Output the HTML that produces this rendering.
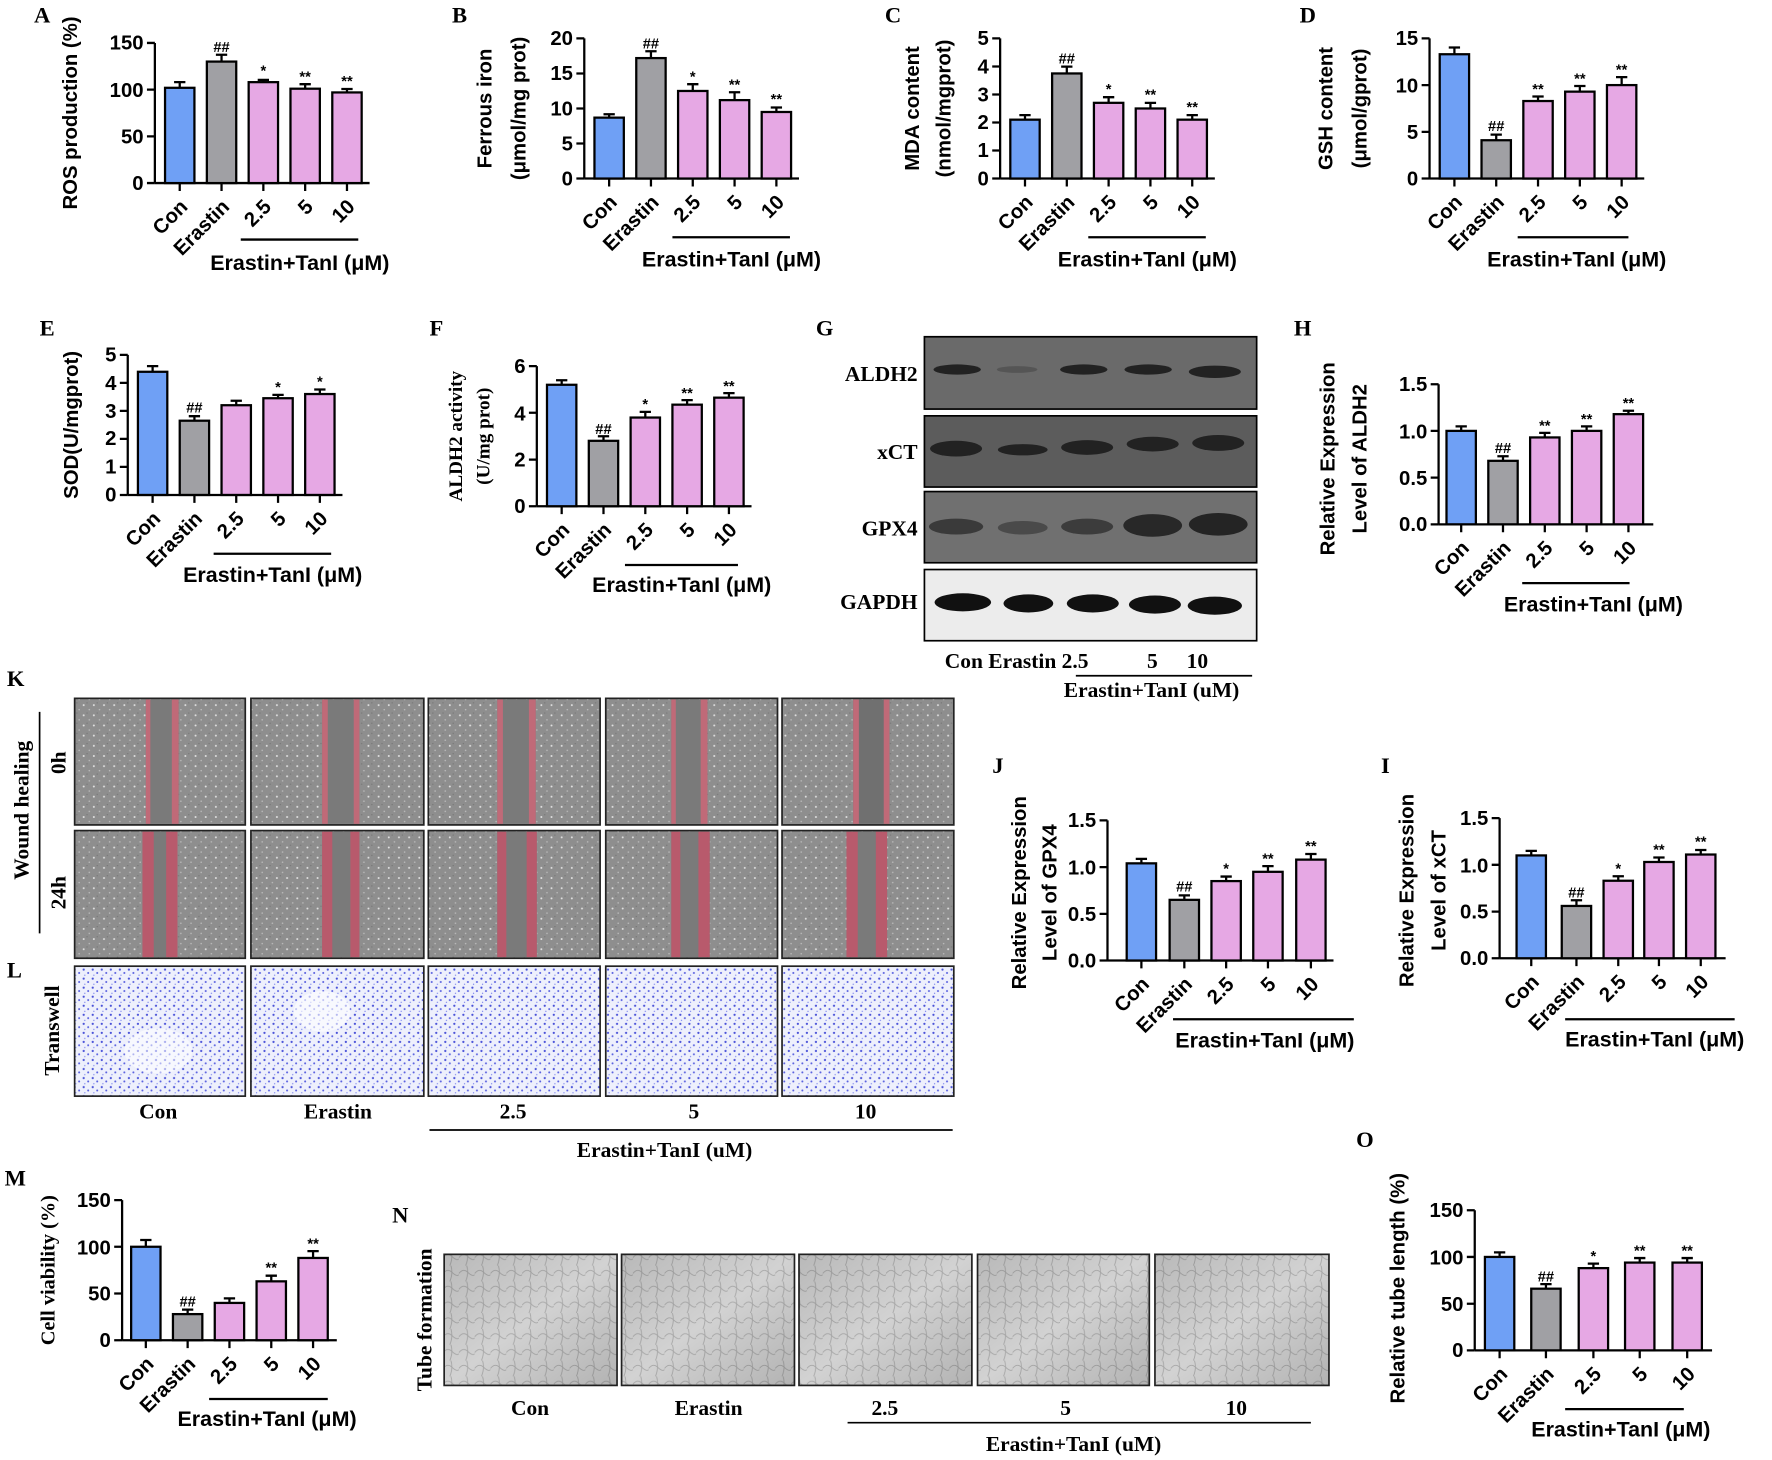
<!DOCTYPE html>
<html><head><meta charset="utf-8"><style>
html,body{margin:0;padding:0;background:#fff}
svg{display:block}
.s{font-family:"Liberation Sans",Arial,sans-serif;font-weight:bold}
.r{font-family:"Liberation Serif","Times New Roman",serif;font-weight:bold}
.ax line,.ax path{stroke:#000;stroke-width:2;fill:none}
.b{stroke:#000;stroke-width:2}
.c{fill:#6fa0f5}.g{fill:#a0a0a4}.p{fill:#e6a8e4}
.tk{font-size:18px;text-anchor:end}
.ct{font-size:18px;text-anchor:end}
.sg{font-size:13px;text-anchor:middle;font-family:"Liberation Sans",sans-serif}
.yl{font-size:18px;text-anchor:middle}
.lt{font-size:20px}
</style></head><body>
<svg width="1772" height="1460" viewBox="0 0 1568 1292" xmlns="http://www.w3.org/2000/svg">
<defs>
<pattern id="wd" width="9" height="9" patternUnits="userSpaceOnUse"><rect width="9" height="9" fill="#8e8e8e"/><circle cx="2" cy="3" r="0.9" fill="#e0e0e0"/><circle cx="7" cy="7" r="0.7" fill="#bbb"/><circle cx="5" cy="1" r="0.6" fill="#777"/></pattern>
<pattern id="tw" width="8" height="8" patternUnits="userSpaceOnUse"><rect width="8" height="8" fill="#eef0fc"/><circle cx="2" cy="2" r="1" fill="#4a52d8"/><circle cx="6" cy="5" r="0.9" fill="#5a62e0"/><circle cx="3" cy="7" r="0.6" fill="#8088ee"/></pattern>
<pattern id="tb" width="14" height="14" patternUnits="userSpaceOnUse"><rect width="14" height="14" fill="#d2d2d2"/><path d="M0 7 Q4 2 8 6 T14 8 M7 0 Q9 7 6 14" stroke="#a8a8a8" stroke-width="0.8" fill="none"/></pattern>
<linearGradient id="vg" x1="0" y1="0" x2="1" y2="1"><stop offset="0" stop-color="#000" stop-opacity="0.12"/><stop offset="0.5" stop-color="#000" stop-opacity="0"/><stop offset="1" stop-color="#000" stop-opacity="0.15"/></linearGradient>
</defs>

<g class="r lt">
<text x="30" y="20">A</text><text x="400" y="20">B</text><text x="783" y="20">C</text><text x="1150" y="20">D</text>
<text x="35" y="297">E</text><text x="380" y="297">F</text><text x="722" y="297">G</text><text x="1145" y="297">H</text>
<text x="6" y="607">K</text><text x="6" y="865">L</text><text x="878" y="684">J</text><text x="1222" y="684">I</text>
<text x="4" y="1049">M</text><text x="347" y="1082">N</text><text x="1200" y="1015">O</text>
</g>

<!-- A -->
<g transform="translate(137,162)" class="s">
<g class="ax"><line x1="0" y1="0" x2="0" y2="-124"/><line x1="0" y1="0" x2="190" y2="0"/>
<path d="M-7 0H0M-7 -41.3H0M-7 -82.7H0M-7 -124H0M22 0v7M59 0v7M96 0v7M133 0v7M170 0v7M76 50H180"/>
<path d="M22 -84.3v-5M17 -89.3h10M59 -107.5v-6M54 -113.5h10M96 -89.3v-2M91 -91.3h10M133 -83.5v-4M128 -87.5h10M170 -80.2v-3M165 -83.2h10"/></g>
<rect class="b c" x="9" y="-84.3" width="26" height="84.3"/><rect class="b g" x="46" y="-107.5" width="26" height="107.5"/><rect class="b p" x="83" y="-89.3" width="26" height="89.3"/><rect class="b p" x="120" y="-83.5" width="26" height="83.5"/><rect class="b p" x="157" y="-80.2" width="26" height="80.2"/>
<text class="tk" x="-10" y="6">0</text><text class="tk" x="-10" y="-35">50</text><text class="tk" x="-10" y="-76">100</text><text class="tk" x="-10" y="-118">150</text>
<text class="sg" x="59" y="-116">##</text><text class="sg" x="96" y="-95">*</text><text class="sg" x="133" y="-90">**</text><text class="sg" x="170" y="-86">**</text>
<text class="ct" transform="translate(30,22) rotate(-45)">Con</text><text class="ct" transform="translate(67,22) rotate(-45)">Erastin</text><text class="ct" transform="translate(104,22) rotate(-45)">2.5</text><text class="ct" transform="translate(141,22) rotate(-45)">5</text><text class="ct" transform="translate(178,22) rotate(-45)">10</text>
<text x="49" y="77" font-size="19">Erastin+TanI (μM)</text>
<text class="yl" transform="translate(-69,-62) rotate(-90)">ROS production (%)</text>
</g>

<!-- B -->
<g transform="translate(517,158)" class="s">
<g class="ax"><line x1="0" y1="0" x2="0" y2="-124"/><line x1="0" y1="0" x2="190" y2="0"/>
<path d="M-7 0H0M-7 -31H0M-7 -62H0M-7 -93H0M-7 -124H0M22 0v7M59 0v7M96 0v7M133 0v7M170 0v7M78 52H182"/>
<path d="M22 -53.9v-3M17 -56.9h10M59 -106.6v-6M54 -112.6h10M96 -77.5v-6M91 -83.5h10M133 -69.4v-7M128 -76.4h10M170 -58.9v-4M165 -62.9h10"/></g>
<rect class="b c" x="9" y="-53.9" width="26" height="53.9"/><rect class="b g" x="46" y="-106.6" width="26" height="106.6"/><rect class="b p" x="83" y="-77.5" width="26" height="77.5"/><rect class="b p" x="120" y="-69.4" width="26" height="69.4"/><rect class="b p" x="157" y="-58.9" width="26" height="58.9"/>
<text class="tk" x="-10" y="6">0</text><text class="tk" x="-10" y="-25">5</text><text class="tk" x="-10" y="-56">10</text><text class="tk" x="-10" y="-87">15</text><text class="tk" x="-10" y="-118">20</text>
<text class="sg" x="59" y="-115">##</text><text class="sg" x="96" y="-86">*</text><text class="sg" x="133" y="-79">**</text><text class="sg" x="170" y="-66">**</text>
<text class="ct" transform="translate(30,22) rotate(-45)">Con</text><text class="ct" transform="translate(67,22) rotate(-45)">Erastin</text><text class="ct" transform="translate(104,22) rotate(-45)">2.5</text><text class="ct" transform="translate(141,22) rotate(-45)">5</text><text class="ct" transform="translate(178,22) rotate(-45)">10</text>
<text x="51" y="78" font-size="19">Erastin+TanI (μM)</text>
<text class="yl" transform="translate(-82,-62) rotate(-90)">Ferrous iron</text>
<text class="yl" transform="translate(-52,-62) rotate(-90)">(μmol/mg prot)</text>
</g>

<!-- C -->
<g transform="translate(885,158)" class="s">
<g class="ax"><line x1="0" y1="0" x2="0" y2="-124"/><line x1="0" y1="0" x2="190" y2="0"/>
<path d="M-7 0H0M-7 -24.8H0M-7 -49.6H0M-7 -74.4H0M-7 -99.2H0M-7 -124H0M22 0v7M59 0v7M96 0v7M133 0v7M170 0v7M78 52H182"/>
<path d="M22 -52.1v-4M17 -56.1h10M59 -93v-6M54 -99h10M96 -67v-5M91 -72h10M133 -62v-5M128 -67h10M170 -52.1v-4M165 -56.1h10"/></g>
<rect class="b c" x="9" y="-52.1" width="26" height="52.1"/><rect class="b g" x="46" y="-93" width="26" height="93"/><rect class="b p" x="83" y="-67" width="26" height="67"/><rect class="b p" x="120" y="-62" width="26" height="62"/><rect class="b p" x="157" y="-52.1" width="26" height="52.1"/>
<text class="tk" x="-10" y="6">0</text><text class="tk" x="-10" y="-19">1</text><text class="tk" x="-10" y="-44">2</text><text class="tk" x="-10" y="-68">3</text><text class="tk" x="-10" y="-93">4</text><text class="tk" x="-10" y="-118">5</text>
<text class="sg" x="59" y="-102">##</text><text class="sg" x="96" y="-75">*</text><text class="sg" x="133" y="-70">**</text><text class="sg" x="170" y="-59">**</text>
<text class="ct" transform="translate(30,22) rotate(-45)">Con</text><text class="ct" transform="translate(67,22) rotate(-45)">Erastin</text><text class="ct" transform="translate(104,22) rotate(-45)">2.5</text><text class="ct" transform="translate(141,22) rotate(-45)">5</text><text class="ct" transform="translate(178,22) rotate(-45)">10</text>
<text x="51" y="78" font-size="19">Erastin+TanI (μM)</text>
<text class="yl" transform="translate(-72,-62) rotate(-90)">MDA content</text>
<text class="yl" transform="translate(-44,-62) rotate(-90)">(nmol/mgprot)</text>
</g>

<!-- D -->
<g transform="translate(1265,158)" class="s">
<g class="ax"><line x1="0" y1="0" x2="0" y2="-124"/><line x1="0" y1="0" x2="190" y2="0"/>
<path d="M-7 0H0M-7 -41.3H0M-7 -82.7H0M-7 -124H0M22 0v7M59 0v7M96 0v7M133 0v7M170 0v7M78 52H176"/>
<path d="M22 -110v-6M17 -116h10M59 -33.9v-5M54 -38.9h10M96 -68.6v-4M91 -72.6h10M133 -76.9v-5M128 -81.9h10M170 -82.7v-7M165 -89.7h10"/></g>
<rect class="b c" x="9" y="-110" width="26" height="110"/><rect class="b g" x="46" y="-33.9" width="26" height="33.9"/><rect class="b p" x="83" y="-68.6" width="26" height="68.6"/><rect class="b p" x="120" y="-76.9" width="26" height="76.9"/><rect class="b p" x="157" y="-82.7" width="26" height="82.7"/>
<text class="tk" x="-10" y="6">0</text><text class="tk" x="-10" y="-35">5</text><text class="tk" x="-10" y="-76">10</text><text class="tk" x="-10" y="-118">15</text>
<text class="sg" x="59" y="-42">##</text><text class="sg" x="96" y="-75">**</text><text class="sg" x="133" y="-84">**</text><text class="sg" x="170" y="-92">**</text>
<text class="ct" transform="translate(30,22) rotate(-45)">Con</text><text class="ct" transform="translate(67,22) rotate(-45)">Erastin</text><text class="ct" transform="translate(104,22) rotate(-45)">2.5</text><text class="ct" transform="translate(141,22) rotate(-45)">5</text><text class="ct" transform="translate(178,22) rotate(-45)">10</text>
<text x="51" y="78" font-size="19">Erastin+TanI (μM)</text>
<text class="yl" transform="translate(-86,-62) rotate(-90)">GSH content</text>
<text class="yl" transform="translate(-56,-62) rotate(-90)">(μmol/gprot)</text>
</g>

<!-- E -->
<g transform="translate(113,438)" class="s">
<g class="ax"><line x1="0" y1="0" x2="0" y2="-124"/><line x1="0" y1="0" x2="190" y2="0"/>
<path d="M-7 0H0M-7 -24.8H0M-7 -49.6H0M-7 -74.4H0M-7 -99.2H0M-7 -124H0M22 0v7M59 0v7M96 0v7M133 0v7M170 0v7M76 52H180"/>
<path d="M22 -109v-5M17 -114h10M59 -65.7v-4M54 -69.7h10M96 -79.4v-4M91 -83.4h10M133 -85.6v-3M128 -88.6h10M170 -89.3v-4M165 -93.3h10"/></g>
<rect class="b c" x="9" y="-109" width="26" height="109"/><rect class="b g" x="46" y="-65.7" width="26" height="65.7"/><rect class="b p" x="83" y="-79.4" width="26" height="79.4"/><rect class="b p" x="120" y="-85.6" width="26" height="85.6"/><rect class="b p" x="157" y="-89.3" width="26" height="89.3"/>
<text class="tk" x="-10" y="6">0</text><text class="tk" x="-10" y="-19">1</text><text class="tk" x="-10" y="-44">2</text><text class="tk" x="-10" y="-68">3</text><text class="tk" x="-10" y="-93">4</text><text class="tk" x="-10" y="-118">5</text>
<text class="sg" x="59" y="-73">##</text><text class="sg" x="133" y="-91">*</text><text class="sg" x="170" y="-96">*</text>
<text class="ct" transform="translate(30,22) rotate(-45)">Con</text><text class="ct" transform="translate(67,22) rotate(-45)">Erastin</text><text class="ct" transform="translate(104,22) rotate(-45)">2.5</text><text class="ct" transform="translate(141,22) rotate(-45)">5</text><text class="ct" transform="translate(178,22) rotate(-45)">10</text>
<text x="49" y="77" font-size="19">Erastin+TanI (μM)</text>
<text class="yl" transform="translate(-44,-62) rotate(-90)">SOD(U/mgprot)</text>
</g>

<!-- F -->
<g transform="translate(475,448)" class="s">
<g class="ax"><line x1="0" y1="0" x2="0" y2="-124"/><line x1="0" y1="0" x2="190" y2="0"/>
<path d="M-7 0H0M-7 -41.3H0M-7 -82.7H0M-7 -124H0M22 0v7M59 0v7M96 0v7M133 0v7M170 0v7M78 52H178"/>
<path d="M22 -107.5v-4M17 -111.5h10M59 -57.9v-4M54 -61.9h10M96 -78.5v-5M91 -83.5h10M133 -89.9v-4M128 -93.9h10M170 -96.1v-4M165 -100.1h10"/></g>
<rect class="b c" x="9" y="-107.5" width="26" height="107.5"/><rect class="b g" x="46" y="-57.9" width="26" height="57.9"/><rect class="b p" x="83" y="-78.5" width="26" height="78.5"/><rect class="b p" x="120" y="-89.9" width="26" height="89.9"/><rect class="b p" x="157" y="-96.1" width="26" height="96.1"/>
<text class="tk" x="-10" y="6">0</text><text class="tk" x="-10" y="-35">2</text><text class="tk" x="-10" y="-76">4</text><text class="tk" x="-10" y="-118">6</text>
<text class="sg" x="59" y="-64">##</text><text class="sg" x="96" y="-86">*</text><text class="sg" x="133" y="-96">**</text><text class="sg" x="170" y="-102">**</text>
<text class="ct" transform="translate(30,22) rotate(-45)">Con</text><text class="ct" transform="translate(67,22) rotate(-45)">Erastin</text><text class="ct" transform="translate(104,22) rotate(-45)">2.5</text><text class="ct" transform="translate(141,22) rotate(-45)">5</text><text class="ct" transform="translate(178,22) rotate(-45)">10</text>
<text x="49" y="76" font-size="19">Erastin+TanI (μM)</text>
<text class="r" font-size="17" text-anchor="middle" transform="translate(-66,-62) rotate(-90)">ALDH2 activity</text>
<text class="r" font-size="17" text-anchor="middle" transform="translate(-42,-62) rotate(-90)">(U/mg prot)</text>
</g>

<!-- G blots -->
<g>
<rect x="818" y="298" width="294" height="64" fill="#6a6a6a" stroke="#000" stroke-width="1.5"/>
<rect x="818" y="368" width="294" height="63" fill="#5c5c5c" stroke="#000" stroke-width="1.5"/>
<rect x="818" y="435" width="294" height="63" fill="#707070" stroke="#000" stroke-width="1.5"/>
<rect x="818" y="504" width="294" height="63" fill="#ececec" stroke="#000" stroke-width="1.5"/>
<g fill="#222">
<ellipse cx="847" cy="327" rx="21" ry="4.5"/><ellipse cx="900" cy="327" rx="18" ry="3" fill="#555"/><ellipse cx="959" cy="327" rx="21" ry="4.5"/><ellipse cx="1016" cy="327" rx="21" ry="4.5"/><ellipse cx="1075" cy="329" rx="23" ry="5.5"/>
<ellipse cx="846" cy="397" rx="23" ry="7"/><ellipse cx="905" cy="398" rx="22" ry="5"/><ellipse cx="962" cy="396" rx="23" ry="6.5"/><ellipse cx="1020" cy="393" rx="23" ry="6.5"/><ellipse cx="1078" cy="392" rx="23" ry="7"/>
<ellipse cx="846" cy="466" rx="24" ry="7" fill="#3a3a3a"/><ellipse cx="905" cy="467" rx="22" ry="6" fill="#4a4a4a"/><ellipse cx="962" cy="466" rx="23" ry="7" fill="#3c3c3c"/><ellipse cx="1020" cy="465" rx="26" ry="10" fill="#282828"/><ellipse cx="1078" cy="464" rx="26" ry="10" fill="#242424"/>
<ellipse cx="852" cy="533" rx="25" ry="8" fill="#111"/><ellipse cx="910" cy="534" rx="22" ry="8" fill="#111"/><ellipse cx="967" cy="534" rx="23" ry="8" fill="#111"/><ellipse cx="1022" cy="535" rx="23" ry="8" fill="#111"/><ellipse cx="1075" cy="536" rx="24" ry="8" fill="#111"/>
</g>
<g class="r" font-size="19" text-anchor="end">
<text x="812" y="337">ALDH2</text><text x="812" y="406">xCT</text><text x="812" y="474">GPX4</text><text x="812" y="539">GAPDH</text>
</g>
<text class="r" font-size="19" x="836" y="591">Con Erastin 2.5</text>
<text class="r" font-size="19" x="1015" y="591">5</text><text class="r" font-size="19" x="1050" y="591">10</text>
<line x1="952" y1="598" x2="1108" y2="598" stroke="#000" stroke-width="1.5"/>
<text class="r" font-size="19" x="1019" y="617" text-anchor="middle">Erastin+TanI (uM)</text>
</g>

<!-- H -->
<g transform="translate(1273,464)" class="s">
<g class="ax"><line x1="0" y1="0" x2="0" y2="-124"/><line x1="0" y1="0" x2="190" y2="0"/>
<path d="M-7 0H0M-7 -41.3H0M-7 -82.7H0M-7 -124H0M20 0v7M57 0v7M94 0v7M131 0v7M168 0v7M74 52H169"/>
<path d="M20 -82.7v-4M15 -86.7h10M57 -56.2v-4M52 -60.2h10M94 -76.9v-4M89 -80.9h10M131 -82.7v-4M126 -86.7h10M168 -97.5v-3M163 -100.5h10"/></g>
<rect class="b c" x="7" y="-82.7" width="26" height="82.7"/><rect class="b g" x="44" y="-56.2" width="26" height="56.2"/><rect class="b p" x="81" y="-76.9" width="26" height="76.9"/><rect class="b p" x="118" y="-82.7" width="26" height="82.7"/><rect class="b p" x="155" y="-97.5" width="26" height="97.5"/>
<text class="tk" x="-10" y="6">0.0</text><text class="tk" x="-10" y="-35">0.5</text><text class="tk" x="-10" y="-76">1.0</text><text class="tk" x="-10" y="-118">1.5</text>
<text class="sg" x="57" y="-63">##</text><text class="sg" x="94" y="-83">**</text><text class="sg" x="131" y="-89">**</text><text class="sg" x="168" y="-103">**</text>
<text class="ct" transform="translate(28,22) rotate(-45)">Con</text><text class="ct" transform="translate(65,22) rotate(-45)">Erastin</text><text class="ct" transform="translate(102,22) rotate(-45)">2.5</text><text class="ct" transform="translate(139,22) rotate(-45)">5</text><text class="ct" transform="translate(176,22) rotate(-45)">10</text>
<text x="137" y="77" font-size="19" text-anchor="middle">Erastin+TanI (μM)</text>
<text class="yl" transform="translate(-92,-58) rotate(-90)">Relative Expression</text>
<text class="yl" transform="translate(-64,-58) rotate(-90)">Level of  ALDH2</text>
</g>

<!-- K wound healing -->
<g stroke="#222" stroke-width="1.5">
<rect x="66" y="618" width="151" height="112" fill="url(#wd)"/><rect x="222" y="618" width="153" height="112" fill="url(#wd)"/><rect x="379" y="618" width="152" height="112" fill="url(#wd)"/><rect x="536" y="618" width="152" height="112" fill="url(#wd)"/><rect x="692" y="618" width="152" height="112" fill="url(#wd)"/>
<rect x="66" y="735" width="151" height="113" fill="url(#wd)"/><rect x="222" y="735" width="153" height="113" fill="url(#wd)"/><rect x="379" y="735" width="152" height="113" fill="url(#wd)"/><rect x="536" y="735" width="152" height="113" fill="url(#wd)"/><rect x="692" y="735" width="152" height="113" fill="url(#wd)"/>
</g>
<g stroke="none">
<rect x="129" y="619" width="29" height="110" fill="#7a7a7a"/><rect x="129" y="619" width="4" height="110" fill="#c06a78"/><rect x="152" y="619" width="6" height="110" fill="#c06a78"/>
<rect x="285" y="619" width="33" height="110" fill="#7a7a7a"/><rect x="285" y="619" width="5" height="110" fill="#c06a78"/><rect x="313" y="619" width="5" height="110" fill="#c06a78"/>
<rect x="440" y="619" width="34" height="110" fill="#7a7a7a"/><rect x="440" y="619" width="5" height="110" fill="#c06a78"/><rect x="468" y="619" width="6" height="110" fill="#c06a78"/>
<rect x="594" y="619" width="32" height="110" fill="#7a7a7a"/><rect x="594" y="619" width="4" height="110" fill="#c06a78"/><rect x="620" y="619" width="6" height="110" fill="#c06a78"/>
<rect x="755" y="619" width="32" height="110" fill="#707070"/><rect x="755" y="619" width="5" height="110" fill="#c06a78"/><rect x="782" y="619" width="5" height="110" fill="#c06a78"/>
<rect x="126" y="736" width="31" height="111" fill="#7a7a7a"/><rect x="126" y="736" width="10" height="111" fill="#b85a6c"/><rect x="147" y="736" width="10" height="111" fill="#b85a6c"/>
<rect x="285" y="736" width="33" height="111" fill="#7a7a7a"/><rect x="285" y="736" width="9" height="111" fill="#b85a6c"/><rect x="310" y="736" width="8" height="111" fill="#b85a6c"/>
<rect x="440" y="736" width="35" height="111" fill="#7a7a7a"/><rect x="440" y="736" width="8" height="111" fill="#b85a6c"/><rect x="466" y="736" width="9" height="111" fill="#b85a6c"/>
<rect x="594" y="736" width="34" height="111" fill="#7a7a7a"/><rect x="594" y="736" width="8" height="111" fill="#b85a6c"/><rect x="618" y="736" width="10" height="111" fill="#b85a6c"/>
<rect x="749" y="736" width="36" height="111" fill="#7a7a7a"/><rect x="749" y="736" width="10" height="111" fill="#b85a6c"/><rect x="775" y="736" width="10" height="111" fill="#b85a6c"/>
</g>
<line x1="35" y1="630" x2="35" y2="826" stroke="#000" stroke-width="1.5"/>
<g class="r" font-size="19" text-anchor="middle">
<text transform="translate(25,717) rotate(-90)">Wound healing</text>
<text transform="translate(58,675) rotate(-90)">0h</text>
<text transform="translate(58,790) rotate(-90)">24h</text>
</g>

<!-- L transwell -->
<g stroke="#222" stroke-width="1.5">
<rect x="66" y="855" width="151" height="115" fill="url(#tw)"/><rect x="222" y="855" width="153" height="115" fill="url(#tw)"/><rect x="379" y="855" width="152" height="115" fill="url(#tw)"/><rect x="536" y="855" width="152" height="115" fill="url(#tw)"/><rect x="692" y="855" width="152" height="115" fill="url(#tw)"/>
</g>
<ellipse cx="140" cy="930" rx="30" ry="20" fill="#fff" opacity="0.5"/><ellipse cx="285" cy="895" rx="25" ry="18" fill="#fff" opacity="0.6"/>
<g class="r" font-size="19" text-anchor="middle">
<text transform="translate(52,912) rotate(-90)">Transwell</text>
<text x="140" y="990">Con</text><text x="299" y="990">Erastin</text><text x="454" y="990">2.5</text><text x="614" y="990">5</text><text x="766" y="990">10</text>
<text x="588" y="1024">Erastin+TanI (uM)</text>
</g>
<line x1="380" y1="1000" x2="843" y2="1000" stroke="#000" stroke-width="1.5"/>

<!-- J -->
<g transform="translate(980,850)" class="s">
<g class="ax"><line x1="0" y1="0" x2="0" y2="-124"/><line x1="0" y1="0" x2="200" y2="0"/>
<path d="M-7 0H0M-7 -41.3H0M-7 -82.7H0M-7 -124H0M30 0v7M68 0v7M105 0v7M142 0v7M180 0v7M58 52H218"/>
<path d="M30 -86v-4M25 -90h10M68 -53.7v-4M63 -57.7h10M105 -70.3v-4M100 -74.3h10M142 -78.5v-5M137 -83.5h10M180 -89.3v-5M175 -94.3h10"/></g>
<rect class="b c" x="17" y="-86" width="26" height="86"/><rect class="b g" x="55" y="-53.7" width="26" height="53.7"/><rect class="b p" x="92" y="-70.3" width="26" height="70.3"/><rect class="b p" x="129" y="-78.5" width="26" height="78.5"/><rect class="b p" x="167" y="-89.3" width="26" height="89.3"/>
<text class="tk" x="-10" y="6">0.0</text><text class="tk" x="-10" y="-35">0.5</text><text class="tk" x="-10" y="-76">1.0</text><text class="tk" x="-10" y="-118">1.5</text>
<text class="sg" x="68" y="-61">##</text><text class="sg" x="105" y="-77">*</text><text class="sg" x="142" y="-86">**</text><text class="sg" x="180" y="-97">**</text>
<text class="ct" transform="translate(38,22) rotate(-45)">Con</text><text class="ct" transform="translate(76,22) rotate(-45)">Erastin</text><text class="ct" transform="translate(113,22) rotate(-45)">2.5</text><text class="ct" transform="translate(150,22) rotate(-45)">5</text><text class="ct" transform="translate(188,22) rotate(-45)">10</text>
<text x="60" y="77" font-size="19">Erastin+TanI (μM)</text>
<text class="yl" transform="translate(-72,-60) rotate(-90)">Relative Expression</text>
<text class="yl" transform="translate(-45,-60) rotate(-90)">Level of  GPX4</text>
</g>

<!-- I -->
<g transform="translate(1327,848)" class="s">
<g class="ax"><line x1="0" y1="0" x2="0" y2="-124"/><line x1="0" y1="0" x2="200" y2="0"/>
<path d="M-7 0H0M-7 -41.3H0M-7 -82.7H0M-7 -124H0M28 0v7M68 0v7M105 0v7M141 0v7M178 0v7M58 54H208"/>
<path d="M28 -91v-4M23 -95h10M68 -46.3v-5M63 -51.3h10M105 -68.6v-4M100 -72.6h10M141 -85.2v-4M136 -89.2h10M178 -91.8v-4M173 -95.8h10"/></g>
<rect class="b c" x="15" y="-91" width="26" height="91"/><rect class="b g" x="55" y="-46.3" width="26" height="46.3"/><rect class="b p" x="92" y="-68.6" width="26" height="68.6"/><rect class="b p" x="128" y="-85.2" width="26" height="85.2"/><rect class="b p" x="165" y="-91.8" width="26" height="91.8"/>
<text class="tk" x="-10" y="6">0.0</text><text class="tk" x="-10" y="-35">0.5</text><text class="tk" x="-10" y="-76">1.0</text><text class="tk" x="-10" y="-118">1.5</text>
<text class="sg" x="68" y="-54">##</text><text class="sg" x="105" y="-75">*</text><text class="sg" x="141" y="-92">**</text><text class="sg" x="178" y="-99">**</text>
<text class="ct" transform="translate(36,22) rotate(-45)">Con</text><text class="ct" transform="translate(76,22) rotate(-45)">Erastin</text><text class="ct" transform="translate(113,22) rotate(-45)">2.5</text><text class="ct" transform="translate(149,22) rotate(-45)">5</text><text class="ct" transform="translate(186,22) rotate(-45)">10</text>
<text x="58" y="78" font-size="19">Erastin+TanI (μM)</text>
<text class="yl" transform="translate(-76,-60) rotate(-90)">Relative Expression</text>
<text class="yl" transform="translate(-48,-60) rotate(-90)">Level of  xCT</text>
</g>

<!-- M -->
<g transform="translate(108,1186)" class="s">
<g class="ax"><line x1="0" y1="0" x2="0" y2="-124"/><line x1="0" y1="0" x2="190" y2="0"/>
<path d="M-7 0H0M-7 -41.3H0M-7 -82.7H0M-7 -124H0M21 0v7M58 0v7M95 0v7M132 0v7M169 0v7M77 52H182"/>
<path d="M21 -82.7v-6M16 -88.7h10M58 -23.1v-4M53 -27.1h10M95 -33v-4M90 -37h10M132 -52.1v-5M127 -57.1h10M169 -72.8v-6M164 -78.8h10"/></g>
<rect class="b c" x="8" y="-82.7" width="26" height="82.7"/><rect class="b g" x="45" y="-23.1" width="26" height="23.1"/><rect class="b p" x="82" y="-33" width="26" height="33"/><rect class="b p" x="119" y="-52.1" width="26" height="52.1"/><rect class="b p" x="156" y="-72.8" width="26" height="72.8"/>
<text class="tk" x="-10" y="6">0</text><text class="tk" x="-10" y="-35">50</text><text class="tk" x="-10" y="-76">100</text><text class="tk" x="-10" y="-118">150</text>
<text class="sg" x="58" y="-30">##</text><text class="sg" x="132" y="-60">**</text><text class="sg" x="169" y="-81">**</text>
<text class="ct" transform="translate(29,22) rotate(-45)">Con</text><text class="ct" transform="translate(66,22) rotate(-45)">Erastin</text><text class="ct" transform="translate(103,22) rotate(-45)">2.5</text><text class="ct" transform="translate(140,22) rotate(-45)">5</text><text class="ct" transform="translate(177,22) rotate(-45)">10</text>
<text x="49" y="76" font-size="19">Erastin+TanI (μM)</text>
<text class="r" font-size="18" text-anchor="middle" transform="translate(-60,-62) rotate(-90)">Cell viability (%)</text>
</g>

<!-- N tube formation -->
<g stroke="#222" stroke-width="1.5">
<rect x="393" y="1110" width="153" height="116" fill="url(#tb)"/><rect x="550" y="1110" width="153" height="116" fill="url(#tb)"/><rect x="707" y="1110" width="153" height="116" fill="url(#tb)"/><rect x="865" y="1110" width="152" height="116" fill="url(#tb)"/><rect x="1022" y="1110" width="154" height="116" fill="url(#tb)"/>
</g>
<g fill="url(#vg)"><rect x="393" y="1110" width="153" height="116"/><rect x="550" y="1110" width="153" height="116"/><rect x="707" y="1110" width="153" height="116"/><rect x="865" y="1110" width="152" height="116"/><rect x="1022" y="1110" width="154" height="116"/></g>
<g class="r" font-size="19" text-anchor="middle">
<text transform="translate(382,1168) rotate(-90)">Tube formation</text>
<text x="469" y="1252">Con</text><text x="627" y="1252">Erastin</text><text x="783" y="1252">2.5</text><text x="943" y="1252">5</text><text x="1094" y="1252">10</text>
<text x="950" y="1284">Erastin+TanI (uM)</text>
</g>
<line x1="750" y1="1259" x2="1160" y2="1259" stroke="#000" stroke-width="1.5"/>

<!-- O -->
<g transform="translate(1305,1195)" class="s">
<g class="ax"><line x1="0" y1="0" x2="0" y2="-124"/><line x1="0" y1="0" x2="210" y2="0"/>
<path d="M-7 0H0M-7 -41.3H0M-7 -82.7H0M-7 -124H0M22 0v7M63 0v7M105 0v7M146 0v7M188 0v7M80 52H185"/>
<path d="M22 -82.7v-4M17 -86.7h10M63 -54.6v-4M58 -58.6h10M105 -72.8v-4M100 -76.8h10M146 -77.7v-4M141 -81.7h10M188 -77.7v-4M183 -81.7h10"/></g>
<rect class="b c" x="9" y="-82.7" width="26" height="82.7"/><rect class="b g" x="50" y="-54.6" width="26" height="54.6"/><rect class="b p" x="92" y="-72.8" width="26" height="72.8"/><rect class="b p" x="133" y="-77.7" width="26" height="77.7"/><rect class="b p" x="175" y="-77.7" width="26" height="77.7"/>
<text class="tk" x="-10" y="6">0</text><text class="tk" x="-10" y="-35">50</text><text class="tk" x="-10" y="-76">100</text><text class="tk" x="-10" y="-118">150</text>
<text class="sg" x="63" y="-61">##</text><text class="sg" x="105" y="-79">*</text><text class="sg" x="146" y="-84">**</text><text class="sg" x="188" y="-84">**</text>
<text class="ct" transform="translate(30,22) rotate(-45)">Con</text><text class="ct" transform="translate(71,22) rotate(-45)">Erastin</text><text class="ct" transform="translate(113,22) rotate(-45)">2.5</text><text class="ct" transform="translate(154,22) rotate(-45)">5</text><text class="ct" transform="translate(196,22) rotate(-45)">10</text>
<text x="50" y="76" font-size="19">Erastin+TanI (μM)</text>
<text class="yl" transform="translate(-62,-55) rotate(-90)">Relative tube length (%)</text>
</g>
</svg>
</body></html>
